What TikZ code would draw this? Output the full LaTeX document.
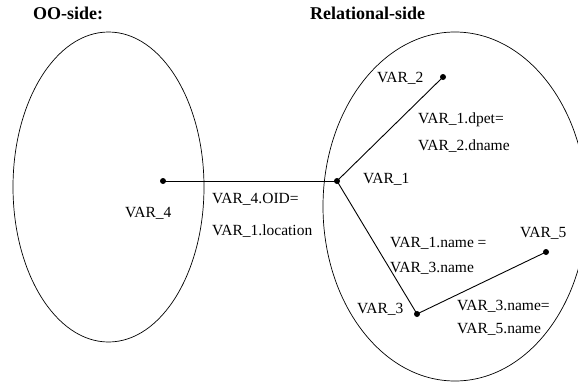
\documentclass[tikz,border=0pt]{standalone}
\usepackage{fontspec}
\setmainfont{Liberation Serif}
\usetikzlibrary{positioning}

\begin{document}
\begin{tikzpicture}[x=1pt,y=-1pt,
  dot/.style={circle,fill=black,inner sep=0pt,minimum size=6pt},
  joinline/.style={black,line width=0.9pt},
  lbl/.style={font=\fontsize{15.5}{17}\selectfont,text=black,anchor=base west,inner sep=0pt},
  side/.style={font=\fontsize{18}{20}\selectfont\bfseries,text=black,anchor=base west,inner sep=0pt}]
\useasboundingbox (0,0) rectangle (578,388);

% the two sides
\node[side] (oo) at (33,19) {OO-side:};
\node[side] (rel) at (310,19) {Relational-side};
\draw[black,line width=0.7pt] (108.5,187) ellipse [x radius=95.5,y radius=155];
\draw[black,line width=0.7pt] (455,206.5) ellipse [x radius=132,y radius=174.5];

% objects
\node[dot] (v4) at (163,181) {};
\node[dot] (v1) at (337,181) {};
\node[dot] (v2) at (443,77) {};
\node[dot] (v3) at (417,314) {};
\node[dot] (v5) at (546,252) {};

\node[lbl] (l4) at (125,217) {VAR\_4};
\node[lbl] (l1) at (363,183) {VAR\_1};
\node[lbl] (l2) at (377,82) {VAR\_2};
\node[lbl] (l3) at (357,313) {VAR\_3};
\node[lbl] (l5) at (520,237) {VAR\_5};

% joins
\draw[joinline] (v4.center) -- (v1.center);
\draw[joinline] (v1.center) -- (v2.center);
\draw[joinline] (v1.center) -- (v3.center);
\draw[joinline] (v3.center) -- (v5.center);

\node[lbl] (j41a) at (212,203) {VAR\_4.OID=};
\node[lbl] (j41b) at (212,235) {VAR\_1.location};
\node[lbl] (j12a) at (418,123) {VAR\_1.dpet=};
\node[lbl] (j12b) at (418,150) {VAR\_2.dname};
\node[lbl] (j13a) at (390,247) {VAR\_1.name =};
\node[lbl] (j13b) at (390,272) {VAR\_3.name};
\node[lbl] (j35a) at (457,310) {VAR\_3.name=};
\node[lbl] (j35b) at (457,333) {VAR\_5.name};
\end{tikzpicture}
\end{document}
